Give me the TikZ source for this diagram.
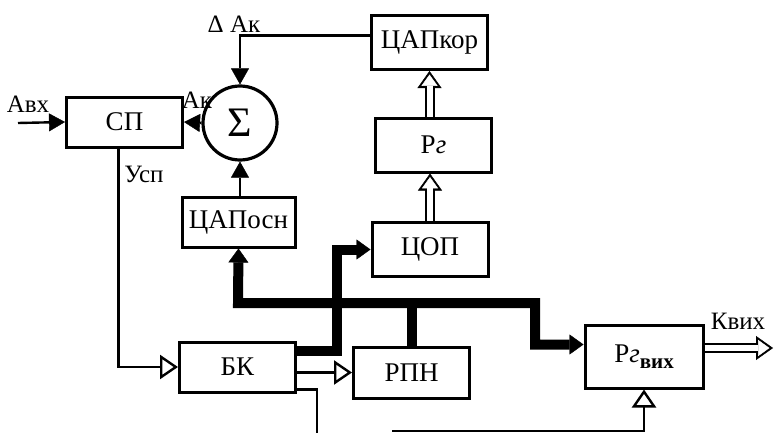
\documentclass[tikz,border=0pt]{standalone}
\usepackage{fontspec}
\setmainfont{Liberation Serif}
\usetikzlibrary{arrows.meta,calc}

\tikzset{
    thintip/.tip={Triangle[length=8pt,width=9pt,line width=0.2pt]},
    opentip/.tip={Triangle[open,length=9pt,width=12pt,line width=1.2pt]},
    bustip/.tip={Triangle[length=7pt,width=10pt,line width=0.2pt]},
}

\begin{document}
\begin{tikzpicture}[
        x=0.5pt, y=-0.5pt,
        every node/.style={font=\fontsize{12.5}{14}\selectfont},
        blk/.style={draw, line width=1.5pt, inner sep=0pt, minimum width=58pt, minimum height=27pt,
            font=\fontsize{13.5}{15}\selectfont},
        ln/.style={line width=1.2pt},
        arr/.style={ln, -thintip},
        tri/.style={ln, -opentip},
        bus/.style={line width=5pt},
        hol/.style={line width=5pt, -{Triangle[length=8.5pt,width=12pt,line width=0.2pt]},
            postaction={draw=white, line width=3pt, shorten >=1.8pt,
                -{Triangle[length=5.6pt,width=8pt,line width=0.2pt]}}},
    ]
        \useasboundingbox (0,0) rectangle (774,433);

        % blocks
        \node[blk, minimum height=25pt] (sp) at (124.5,122) {СП};
        \node[draw, circle, line width=1.6pt, minimum size=37pt, inner sep=0pt,
              font=\fontsize{21}{21}\selectfont] (sum) at (240,123) {Σ};
        \node[blk] (dakor) at (429.5,42.5) {ЦАПкор};
        \node[blk] (rg) at (433.5,145) {Р\textit{г}};
        \node[blk] (cop) at (430,249.5) {ЦОП};
        \node[blk, minimum width=56.5pt, minimum height=25pt] (dapos) at (238.5,222) {ЦАПосн};
        \node[blk, minimum height=25pt] (bk) at (237.5,367) {БК};
        \node[blk, minimum height=25.5pt] (rpn) at (411.5,372.5) {РПН};
        \node[blk, minimum width=59pt, minimum height=31.5pt] (rgout) at (644,356.5)
            {Р\textit{г}\raisebox{-3pt}{\fontsize{10.5}{10}\selectfont\bfseries вих}};

        % labels
        \node (avx) at (28,104) {Авх};
        \node (ak) at (197,100) {Ак};
        \node (dak) at (234,24) {Δ Ак};
        \node (usp) at (144,174) {Усп};
        \node (kvih) at (738,321) {Квих};

        \coordinate (in) at (18,123);
        \coordinate (busL) at (238,303);
        \coordinate (busR) at (535,303);
        \coordinate (busX) at (337,303);
        \coordinate (bkout) at (317,433);
        \coordinate (clk) at (392,431);
        \coordinate (kout) at (773,348);

        % bus
        \draw[bus, bustip-bustip] (dapos.south) -- (busL) -- (busR) |- ([yshift=6pt]rgout.west);
        \draw[bus, -bustip] ([yshift=-5pt]bk.north east) -| (busX) |- (cop.west);
        \draw[bus] (rpn.north) -- (rpn.north |- busL);

        % thin lines
        \draw[arr] (in) -- (sp.west);
        \draw[arr] (sum.west) -- (sp.east);
        \draw[arr] ([yshift=3.5pt]dakor.west) -| (sum.north);
        \draw[arr] (sum.south |- dapos.north) -- (sum.south);
        \draw[tri] ([xshift=-3pt]sp.south) |- (bk.west);
        \draw[tri] (bk.east |- rpn.west) -- (rpn.west);
        \draw[ln] ([yshift=2pt]bk.south east) -| (bkout);
        \draw[tri] (clk) -| (rgout.south);

        % double lines
        \draw[hol] (cop.north) -- (cop.north |- rg.south);
        \draw[hol] (dakor.south |- rg.north) -- (dakor.south);
        \draw[hol] (rgout.east |- kout) -- (kout);
    \end{tikzpicture}
\end{document}
